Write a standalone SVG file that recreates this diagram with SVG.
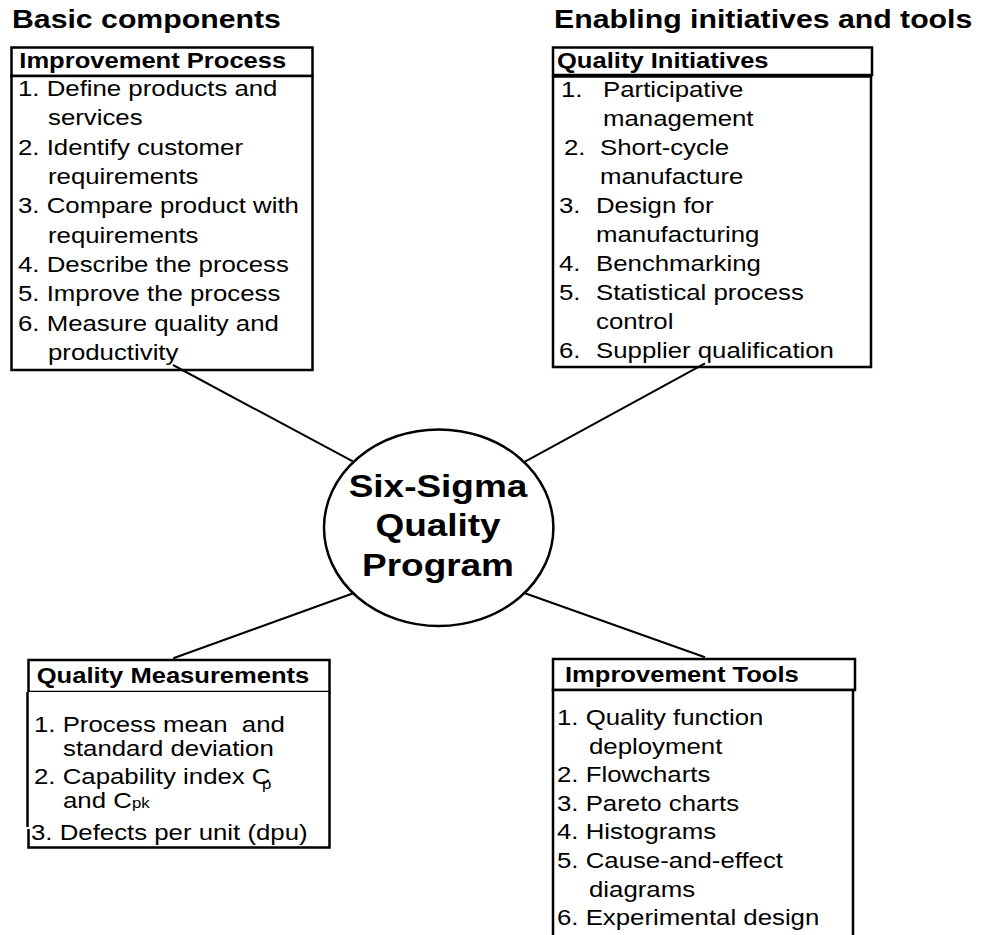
<svg xmlns="http://www.w3.org/2000/svg" width="983" height="935" viewBox="0 0 983 935">
  <style>
    text { font-family: "Liberation Sans", Arial, sans-serif; fill: #000; white-space: pre; }
    .t { font-size: 25.2px; font-weight: bold; }
    .h { font-size: 21.3px; font-weight: bold; }
    .b { font-size: 21.5px; }
    .c { font-size: 30.8px; font-weight: bold; text-anchor: middle; }
    .s { font-size: 14px; }
    .box { fill: #fff; stroke: #000; stroke-width: 2.5; }
    .edge { fill: none; stroke: #000; stroke-width: 2.5; }
    .link { stroke: #000; stroke-width: 2; fill: none; }
  </style>
  <rect x="0" y="0" width="983" height="935" fill="#fff"/>

  <!-- column headings -->
  <text class="t" transform="translate(12 28.3) scale(1.2 1)">Basic components</text>
  <text class="t" transform="translate(554 28.3) scale(1.2 1)">Enabling initiatives and tools</text>

  <!-- basic components: improvement process -->
  <g id="improvement-process">
    <rect class="box" x="11.5" y="47.5" width="301" height="28.5"/>
    <rect class="box" x="11.5" y="76" width="301" height="294"/>
    <text class="h" transform="translate(19.3 68.3) scale(1.2 1)">Improvement Process</text>
    <text class="b" transform="translate(18 96) scale(1.2 1)">1. Define products and</text>
    <text class="b" transform="translate(48 125.3) scale(1.2 1)">services</text>
    <text class="b" transform="translate(18 154.7) scale(1.2 1)">2. Identify customer</text>
    <text class="b" transform="translate(48 184) scale(1.2 1)">requirements</text>
    <text class="b" transform="translate(18 213.3) scale(1.2 1)">3. Compare product with</text>
    <text class="b" transform="translate(48 242.7) scale(1.2 1)">requirements</text>
    <text class="b" transform="translate(18 272) scale(1.2 1)">4. Describe the process</text>
    <text class="b" transform="translate(18 301.3) scale(1.2 1)">5. Improve the process</text>
    <text class="b" transform="translate(18 330.7) scale(1.2 1)">6. Measure quality and</text>
    <text class="b" transform="translate(48 360) scale(1.2 1)">productivity</text>
  </g>

  <!-- enabling initiatives: quality initiatives -->
  <g id="quality-initiatives">
    <rect class="box" x="553" y="47.5" width="319" height="27.5"/>
    <rect class="box" x="553" y="76.5" width="318" height="290.5"/>
    <text class="h" transform="translate(557 68.3) scale(1.2 1)">Quality Initiatives</text>
    <text class="b" transform="translate(561 97) scale(1.2 1)">1.</text>
    <text class="b" transform="translate(603 97) scale(1.2 1)">Participative</text>
    <text class="b" transform="translate(603 126) scale(1.2 1)">management</text>
    <text class="b" transform="translate(564 155) scale(1.2 1)">2.</text>
    <text class="b" transform="translate(600 155) scale(1.2 1)">Short-cycle</text>
    <text class="b" transform="translate(600 184) scale(1.2 1)">manufacture</text>
    <text class="b" transform="translate(559 213) scale(1.2 1)">3.</text>
    <text class="b" transform="translate(596 213) scale(1.2 1)">Design for</text>
    <text class="b" transform="translate(596 242) scale(1.2 1)">manufacturing</text>
    <text class="b" transform="translate(559 271) scale(1.2 1)">4.</text>
    <text class="b" transform="translate(596 271) scale(1.2 1)">Benchmarking</text>
    <text class="b" transform="translate(559 300) scale(1.2 1)">5.</text>
    <text class="b" transform="translate(596 300) scale(1.2 1)">Statistical process</text>
    <text class="b" transform="translate(596 329) scale(1.2 1)">control</text>
    <text class="b" transform="translate(559 358) scale(1.2 1)">6.</text>
    <text class="b" transform="translate(596 358) scale(1.2 1)">Supplier qualification</text>
  </g>

  <!-- basic components: quality measurements -->
  <g id="quality-measurements">
    <rect class="box" x="28.5" y="660" width="301" height="32"/>
    <rect x="28" y="692" width="301.5" height="155.5" fill="#fff"/>
    <!-- body outline: the last item sits in its own slightly offset frame -->
    <path class="edge" d="M27.5 692 V827 M28.5 829 V847.5 H329.5 V692"/>
    <text class="h" transform="translate(36.7 682.7) scale(1.2 1)">Quality Measurements</text>
    <text class="b" transform="translate(34 731.7) scale(1.2 1)">1. Process mean  and</text>
    <text class="b" transform="translate(63 755.5) scale(1.2 1)">standard deviation</text>
    <text class="b" transform="translate(34 783.5) scale(1.2 1)">2. Capability index C</text>
    <text class="s" transform="translate(262 789) scale(1.2 1)">p</text>
    <text class="b" transform="translate(63 808.3) scale(1.2 1)">and C</text>
    <text class="s" transform="translate(132 808.3) scale(1.2 1)">pk</text>
    <text class="b" transform="translate(31 840) scale(1.2 1)">3. Defects per unit (dpu)</text>
  </g>

  <!-- enabling tools: improvement tools -->
  <g id="improvement-tools">
    <rect class="box" x="553" y="659" width="302" height="31"/>
    <rect class="box" x="553" y="690" width="300" height="260"/>
    <text class="h" transform="translate(565 681.7) scale(1.2 1)">Improvement Tools</text>
    <text class="b" transform="translate(557 725) scale(1.2 1)">1. Quality function</text>
    <text class="b" transform="translate(589 753.6) scale(1.2 1)">deployment</text>
    <text class="b" transform="translate(557 782.2) scale(1.2 1)">2. Flowcharts</text>
    <text class="b" transform="translate(557 810.8) scale(1.2 1)">3. Pareto charts</text>
    <text class="b" transform="translate(557 839.4) scale(1.2 1)">4. Histograms</text>
    <text class="b" transform="translate(557 868) scale(1.2 1)">5. Cause-and-effect</text>
    <text class="b" transform="translate(589 896.6) scale(1.2 1)">diagrams</text>
    <text class="b" transform="translate(557 925.2) scale(1.2 1)">6. Experimental design</text>
  </g>

  <!-- spokes from each panel to the central program -->
  <g id="connectors">
    <line class="link" x1="173" y1="365" x2="353.3" y2="461.7"/>
    <line class="link" x1="705" y1="363.3" x2="525" y2="461.7"/>
    <line class="link" x1="173.3" y1="658.3" x2="353.3" y2="593.3"/>
    <line class="link" x1="705" y1="657.3" x2="525" y2="593.3"/>
  </g>

  <!-- central program -->
  <g id="six-sigma">
    <ellipse class="box" cx="438.7" cy="527.7" rx="114.7" ry="98.3"/>
    <text class="c" transform="translate(438 497) scale(1.2 1)">Six-Sigma</text>
    <text class="c" transform="translate(438 536) scale(1.2 1)">Quality</text>
    <text class="c" transform="translate(438 576) scale(1.2 1)">Program</text>
  </g>
</svg>
